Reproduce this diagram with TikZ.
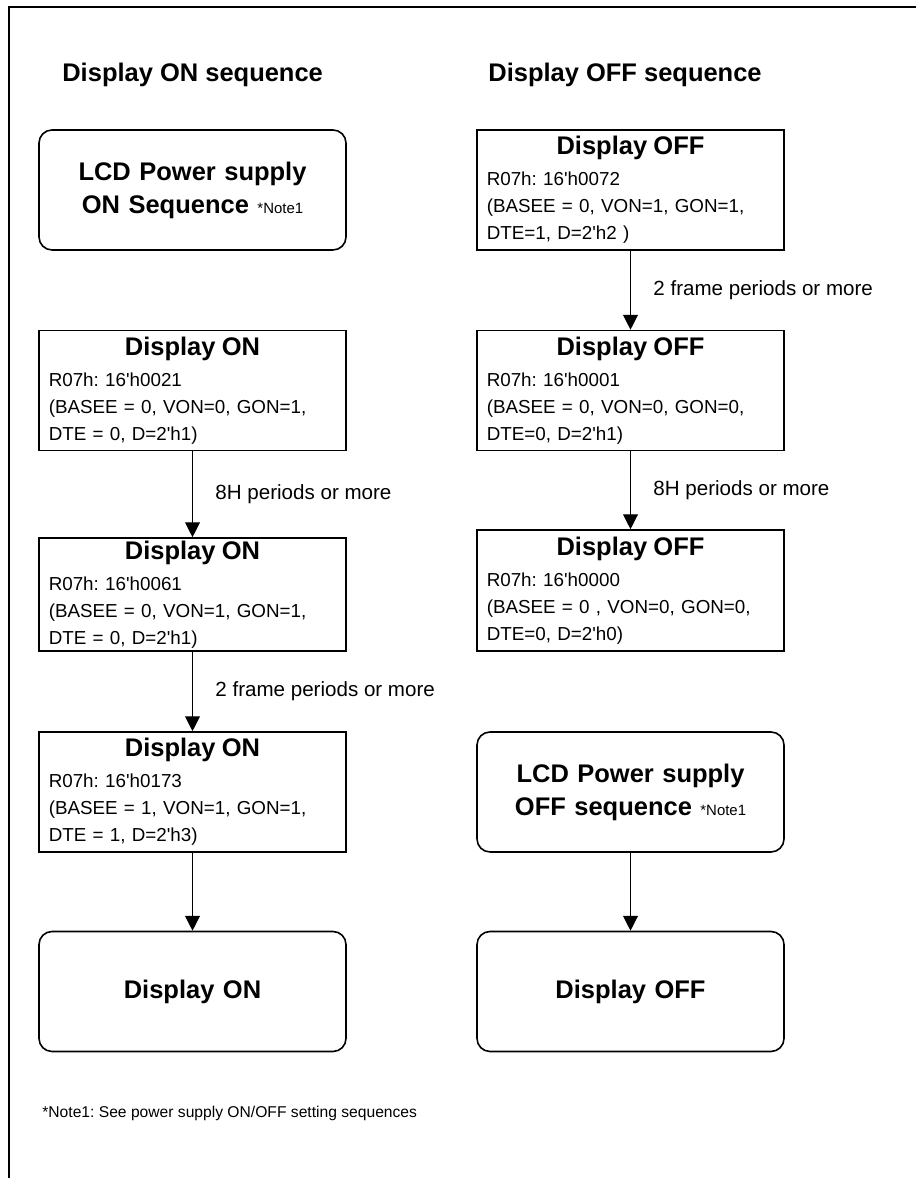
\documentclass[tikz,border=0pt]{standalone}
\usepackage{fontspec}
\setmainfont{Liberation Sans}
\usetikzlibrary{arrows.meta,positioning}
\frenchspacing
\newcommand\seqbody{\fontsize{10.7}{15.4}\selectfont}
\newcommand\seqhead{\fontsize{14.5}{18.8}\selectfont\bfseries}
\newcommand\seqtitle[1]{\hfill{\seqhead #1}\hfill\null\\[2.2pt]}
\newcommand\notemark{{\fontsize{8.5}{10}\selectfont\mdseries *Note1}}
\newcommand\tq{\textquotesingle}
\tikzset{
  seqbox/.style={draw, line width=.9pt, minimum width=6.14cm, minimum height=2.4cm,
    text width=5.75cm, inner xsep=.195cm, inner ysep=.05cm, align=left, font=\seqbody},
  endbox/.style={seqbox, rounded corners=.26cm, align=center, font=\seqhead},
  colhead/.style={font=\seqhead, anchor=west, inner sep=0pt},
  seqflow/.style={-{Triangle[length=8.5pt,width=8.5pt]}, line width=.7pt},
  waitlabel/.style={font=\fontsize{11.7}{14}\selectfont, midway, right=.33cm}
}
\begin{document}
\begin{tikzpicture}[x=1cm,y=1cm]
  \useasboundingbox (0,0) rectangle (18.32,23.56);
  % page frame, cut at the right and at the bottom
  \draw[line width=1.1pt] (18.32,23.42) -- (.18,23.42) -- (.18,0);

  \node[colhead] (onhead) at (1.24,22.06) {Display ON sequence};
  \node[colhead] (offhead) at (9.76,22.06) {Display OFF sequence};

  % ON column
  \node[endbox] (lcdon) at (3.85,19.76) {LCD Power supply\\ON Sequence \notemark};
  \node[seqbox] (on1) at (3.85,15.75)
    {\seqtitle{Display ON}R07h: 16\tq h0021\\(BASEE = 0, VON=0, GON=1,\\DTE = 0, D=2\tq h1)};
  \node[seqbox, minimum height=2.26cm] (on2) at (3.85,11.67)
    {\seqtitle{Display ON}R07h: 16\tq h0061\\(BASEE = 0, VON=1, GON=1,\\DTE = 0, D=2\tq h1)};
  \node[seqbox] (on3) at (3.85,7.72)
    {\seqtitle{Display ON}R07h: 16\tq h0173\\(BASEE = 1, VON=1, GON=1,\\DTE = 1, D=2\tq h3)};
  \node[endbox] (onend) at (3.85,3.73) {Display ON};
  \draw[seqflow] (on1) -- node[waitlabel] {8H periods or more} (on2);
  \draw[seqflow] (on2) -- node[waitlabel] {2 frame periods or more} (on3);
  \draw[seqflow] (on3) -- (onend);

  % OFF column
  \node[seqbox] (off1) at (12.61,19.76)
    {\seqtitle{Display OFF}R07h: 16\tq h0072\\(BASEE = 0, VON=1, GON=1,\\DTE=1, D=2\tq h2 )};
  \node[seqbox] (off2) at (12.61,15.75)
    {\seqtitle{Display OFF}R07h: 16\tq h0001\\(BASEE = 0, VON=0, GON=0,\\DTE=0, D=2\tq h1)};
  \node[seqbox, minimum height=2.42cm] (off3) at (12.61,11.75)
    {\seqtitle{Display OFF}R07h: 16\tq h0000\\(BASEE = 0 , VON=0, GON=0,\\DTE=0, D=2\tq h0)};
  \node[endbox] (lcdoff) at (12.61,7.72) {LCD Power supply\\OFF sequence \notemark};
  \node[endbox] (offend) at (12.61,3.73) {Display OFF};
  \draw[seqflow] (off1) -- node[waitlabel] {2 frame periods or more} (off2);
  \draw[seqflow] (off2) -- node[waitlabel] {8H periods or more} (off3);
  \draw[seqflow] (lcdoff) -- (offend);

  \node[font=\fontsize{8.9}{11}\selectfont, anchor=west, inner sep=0pt] (note) at (.84,1.30)
    {*Note1: See power supply ON/OFF setting sequences};
\end{tikzpicture}
\end{document}
